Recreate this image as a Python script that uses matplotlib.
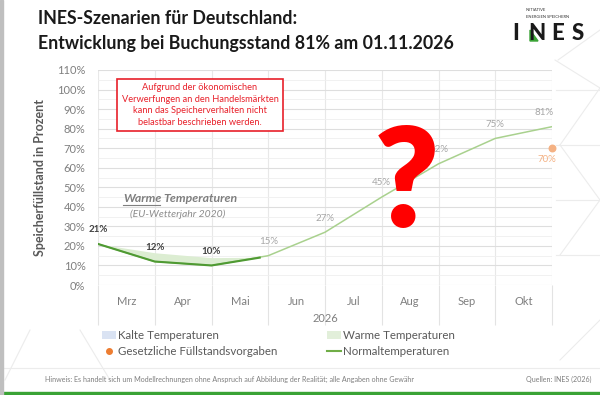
import matplotlib
matplotlib.use("Agg")
import matplotlib.pyplot as plt
from matplotlib.lines import Line2D
from matplotlib.patches import Patch, Polygon

plt.rcParams['font.family'] = ['Lato', 'DejaVu Sans']

# month boundaries: 0 = 01.03., 8 = 01.11.
months = ['Mrz', 'Apr', 'Mai', 'Jun', 'Jul', 'Aug', 'Sep', 'Okt']
normal_x = [0, 1, 2, 3, 4, 5, 6, 7, 8]
normal_y = [21, 12, 10, 15, 27, 45, 62, 75, 81]
ist_x = [0, 1, 2, 2.85]
ist_y = [21, 12, 10, 14]
warm_upper = [21, 16.5, 14, 14.2]
vorgabe_x = [8]
vorgabe_y = [70]


def fx(px):
    return px / 600


def fy(py):
    return 1 - py / 395


fig = plt.figure(figsize=(6.0, 3.95), dpi=100)
fig.patch.set_facecolor('white')

# faint background pattern
for (x0, y0), (x1, y1) in [((555, 60), (600, 88)), ((558, 60), (600, 30)),
                           ((560, 145), (600, 88)), ((560, 145), (600, 200)),
                           ((560, 255), (600, 200)), ((30, 330), (5, 380)),
                           ((80, 330), (110, 380)), ((560, 360), (600, 320))]:
    fig.add_artist(Line2D([fx(x0), fx(x1)], [fy(y0), fy(y1)],
                          color='#ececec', lw=0.8, zorder=0))
for yy in [90, 145, 200, 255]:
    fig.add_artist(Line2D([fx(556), 1], [fy(yy)] * 2, color='#ececec', lw=0.8, zorder=0))
fig.add_artist(Line2D([0, 1], [fy(368)] * 2, color='#ececec', lw=0.8, zorder=0))

ax = fig.add_axes([fx(98), fy(285), 454 / 600, 215 / 395])
ax.set_facecolor('none')
ax.set_xlim(0, 8)
ax.set_ylim(0, 110)

ax.set_yticks(range(0, 111, 10))
ax.set_yticks(range(5, 110, 10), minor=True)
ax.set_yticklabels([f'{v}%' for v in range(0, 111, 10)])
ax.set_xticks(range(9))
ax.set_xticklabels([])
ax.set_xticks([i + 0.5 for i in range(8)], minor=True)
ax.set_xticklabels(months, minor=True)
ax.tick_params(axis='y', which='both', length=0, labelsize=8, labelcolor='#7f7f7f', pad=9)
ax.tick_params(axis='x', which='major', length=29, color='#e3e3e3', width=0.8)
ax.tick_params(axis='x', which='minor', length=0, labelsize=8, labelcolor='#7f7f7f', pad=8)
ax.grid(axis='y', which='major', color='#dedede', lw=0.8)
ax.grid(axis='y', which='minor', color='#efefef', lw=0.6)
ax.grid(axis='x', which='major', color='#e8e8e8', lw=0.8)
for s in ax.spines.values():
    s.set_visible(False)
fig.text(fx(325), fy(319), '2026', fontsize=8, color='#7f7f7f', ha='center', va='center')
ax.set_ylabel('Speicherfüllstand in Prozent', fontsize=9, fontweight='bold',
              color='#595959', labelpad=8)

ax.fill_between(ist_x, ist_y, warm_upper, color='#dcedd2', lw=0, zorder=2)
ax.plot(normal_x, normal_y, color='#a9d18e', lw=1.1, zorder=3)
ax.plot(ist_x, ist_y, color='#4f9a33', lw=1.5, zorder=4)
ax.scatter(vorgabe_x, vorgabe_y, s=22, color='#f4b183', zorder=5, clip_on=False)

for i, (x, y) in enumerate(zip(normal_x, normal_y)):
    dark = i < 3
    dx = -6 if i == 8 else 0
    ax.annotate(f'{y}%', (x, y), xytext=(dx, 7), textcoords='offset points',
                ha='center', va='bottom', fontsize=7,
                color='#404040' if dark else '#a6a6a6',
                fontweight='bold' if dark else 'normal', zorder=6)
ax.annotate(f'{vorgabe_y[0]}%', (vorgabe_x[0], vorgabe_y[0]), xytext=(-4, -5),
            textcoords='offset points', ha='center', va='top', fontsize=7,
            color='#f4b183', annotation_clip=False)

ax.text(fx(200), fy(105),
        'Aufgrund der ökonomischen\nVerwerfungen an den Handelsmärkten\n'
        'kann das Speicherverhalten nicht\nbelastbar beschrieben werden.',
        transform=fig.transFigure, ha='center', va='center', fontsize=6.7,
        color='#e8202a', linespacing=1.35,
        bbox=dict(boxstyle='square,pad=0.5', fc='white', ec='#e8202a', lw=1.2))

ax.text(fx(123), fy(199), 'Warme', transform=fig.transFigure,
        ha='left', va='center', fontsize=8.8, fontstyle='italic', fontweight='bold',
        color='#7f7f7f')
ax.text(fx(163), fy(199), 'Temperaturen', transform=fig.transFigure,
        ha='left', va='center', fontsize=8.8, fontstyle='italic', fontweight='bold',
        color='#7f7f7f')
fig.add_artist(Line2D([fx(123), fx(160)], [fy(205)] * 2, color='#7f7f7f', lw=0.8))
ax.text(fx(178), fy(214), '(EU-Wetterjahr 2020)', transform=fig.transFigure,
        ha='center', va='center', fontsize=7.5, fontstyle='italic', color='#8c8c8c')

ax.text(fx(407), fy(186), '?', transform=fig.transFigure, ha='center',
        va='center', fontsize=100, fontweight='heavy', color='#ff0000', zorder=10)

# titles
fig.text(fx(38), fy(18), 'INES-Szenarien für Deutschland:', fontsize=12.8,
         fontweight='bold', color='#1a1a1a', va='center')
fig.text(fx(38), fy(44), 'Entwicklung bei Buchungsstand 81% am 01.11.2026',
         fontsize=12.8, fontweight='bold', color='#1a1a1a', va='center')

# logo
fig.text(fx(526), fy(10), 'INITIATIVE', fontsize=3, color='#333333', va='center')
fig.text(fx(526), fy(17), 'ENERGIEN SPEICHERN', fontsize=3, color='#333333', va='center')
for lx, ch in zip([516, 537, 558, 578], 'INES'):
    fig.text(fx(lx), fy(33), ch, fontsize=16, fontweight='black',
             color='#1a1a1a', ha='center', va='center')
fig.add_artist(Polygon([[fx(530), fy(41)], [fx(530), fy(30)], [fx(538), fy(41)]],
                       closed=True, color='#3aa335'))

# legend
handles = [Patch(fc='#dae3f3', ec='none'),
           Line2D([], [], ls='none', marker='o', ms=4, color='#ed7d31'),
           Patch(fc='#e2efda', ec='none'),
           Line2D([], [], color='#70ad47', lw=1.5)]
labels = ['Kalte Temperaturen', 'Gesetzliche Füllstandsvorgaben',
          'Warme Temperaturen', 'Normaltemperaturen']
fig.legend(handles, labels, loc='upper left', bbox_to_anchor=(fx(102), fy(330)),
           ncol=2, frameon=False, fontsize=8.3, labelcolor='#595959',
           handlelength=1.2, handletextpad=0.2, columnspacing=4.3, labelspacing=0.45,
           borderaxespad=0, borderpad=0)

# footer
fig.text(fx(45), fy(379),
         'Hinweis: Es handelt sich um Modellrechnungen ohne Anspruch auf Abbildung der '
         'Realität; alle Angaben ohne Gewähr', fontsize=5.1, color='#7f7f7f', va='center')
fig.text(fx(592), fy(379), 'Quellen: INES (2026)', fontsize=5.1,
         color='#7f7f7f', va='center', ha='right')
fig.add_artist(Polygon([[0, 0], [1, 0], [1, 3 / 395], [0, 3 / 395]], closed=True,
                       color='#3aa335'))
fig.add_artist(Polygon([[0, 0], [3 / 600, 0], [3 / 600, 1], [0, 1]], closed=True,
                       color='#bfbfbf'))

fig.savefig('out.png', dpi=100)
